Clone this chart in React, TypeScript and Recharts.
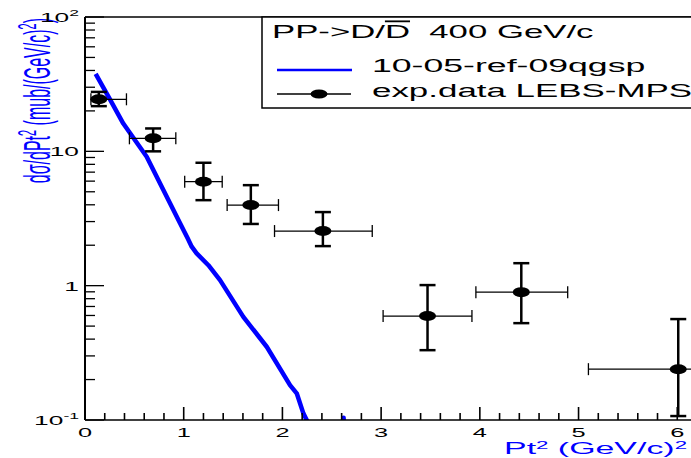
import React from 'react';
import { ComposedChart, Line, Scatter, XAxis, YAxis, ErrorBar, ReferenceLine } from 'recharts';

// ---- simulation curve (10-05-ref-09qgsp) ----
const curveX = [0.108, 0.253, 0.388, 0.625, 0.794, 0.963, 1.04, 1.081, 1.131, 1.25, 1.368, 1.604, 1.841, 2.077, 2.145, 2.212, 2.246, 2.29, 2.6, 2.615, 2.62, 2.625, 2.64];
const curveY = [37.7, 24.4, 16.1, 9.12, 5.15, 2.91, 2.25, 1.95, 1.74, 1.42, 1.10, 0.586, 0.351, 0.182, 0.158, 0.112, 0.1, 0.07, 0.07, 0.07, 0.104, 0.07, 0.07];

// ---- experimental data (exp.data LEBS-MPS) ----
const expX = [0.14, 0.69, 1.20, 1.68, 2.41, 3.47, 4.42, 6.01];
const expY = [24.4, 12.5, 5.94, 3.98, 2.55, 0.594, 0.895, 0.239];
const expXLo = [0.06, 0.45, 1.01, 1.44, 1.92, 3.02, 3.96, 5.10];
const expXHi = [0.42, 0.92, 1.39, 1.96, 2.91, 3.92, 4.89, 6.92];
const expYLo = [21.7, 10.0, 4.33, 2.88, 1.97, 0.331, 0.526, 0.107];
const expYHi = [27.7, 14.8, 8.22, 5.6, 3.53, 1.01, 1.47, 0.564];

// ---- axes ----
const xMajor = [0, 1, 2, 3, 4, 5, 6];
const xMajorLabels = ['0', '1', '2', '3', '4', '5', '6'];
const xMinorSteps = [0.2, 0.4, 0.6, 0.8];
const xDomain = [0, 6.2];
const yTicks = [
  0.1, 0.2, 0.3, 0.4, 0.5, 0.6, 0.7, 0.8, 0.9,
  1, 2, 3, 4, 5, 6, 7, 8, 9,
  10, 20, 30, 40, 50, 60, 70, 80, 90, 100,
];
const yDomain = [0.1, 100];

const legendTitle = 'PP->D/';
const legendTitleBar = 'D';
const legendTitleRest = '  400 GeV/c';
const seriesNames = ['10-05-ref-09qgsp', 'exp.data LEBS-MPS'];

const FONT = '"Liberation Sans", Arial, Helvetica, sans-serif';
const SX = 1.95;
const BLUE = '#0000ff';
const TICK = '#000000';

const curveData = curveX.map((x, i) => ({ x, y: curveY[i] }));
const expData = expX.map((x, i) => ({
  x,
  y: expY[i],
  ex: [x - expXLo[i], expXHi[i] - x],
  ey: [expY[i] - expYLo[i], expYHi[i] - expY[i]],
}));

const xTicks: number[] = [];
xMajor.forEach((m) => {
  xTicks.push(m);
  xMinorSteps.forEach((s) => xTicks.push(+(m + s).toFixed(2)));
});

function XTick(props: any) {
  const { x, y, payload } = props;
  const v = payload.value;
  const major = Math.abs(v - Math.round(v)) < 1e-6;
  const idx = xMajor.indexOf(Math.round(v));
  return (
    <g>
      <line x1={x} x2={x} y1={y} y2={y - (major ? 13 : 7)} stroke={TICK} strokeWidth={1.6} />
      {major && idx >= 0 && (
        <text
          transform={`translate(${x},${y + 17}) scale(${SX},1)`}
          textAnchor="middle"
          fontSize={13}
          fontFamily={FONT}
          fill="#000"
        >
          {xMajorLabels[idx]}
        </text>
      )}
    </g>
  );
}

function YTick(props: any) {
  const { x, y, payload } = props;
  const v = payload.value;
  const lg = Math.log10(v);
  const e = Math.round(lg);
  const major = Math.abs(lg - e) < 1e-6;
  let label = null;
  if (major) {
    const main = e === 0 ? '1' : '10';
    const sup = e === 0 || e === 1 ? null : e < 0 ? '-' + String(-e) : String(e);
    label = (
      <text
        transform={`translate(${x - 6},${y + 5}) scale(${SX},1)`}
        textAnchor="end"
        fontSize={13.5}
        fontFamily={FONT}
        fill="#000"
      >
        {main}
        {sup && (
          <tspan dy={-6} fontSize={9}>
            {sup}
          </tspan>
        )}
      </text>
    );
  }
  return (
    <g>
      <line x1={x} x2={x + (major ? 19 : 10)} y1={y} y2={y} stroke={TICK} strokeWidth={1.3} />
      {label}
    </g>
  );
}

function YTitle() {
  return (
    <text
      transform={`translate(50,18) scale(2.35,1) rotate(-90)`}
      textAnchor="end"
      fontSize={16}
      fontFamily={FONT}
      fill={BLUE}
    >
      {'d\u03c3/dPt'}
      <tspan dy={-6} fontSize={11}>2</tspan>
      <tspan dy={6}>{' (mub/(GeV/c)'}</tspan>
      <tspan dy={-6} fontSize={11}>2</tspan>
      <tspan dy={6}>)</tspan>
    </text>
  );
}

function XTitle() {
  return (
    <text
      transform={`translate(687,454) scale(2.12,1)`}
      textAnchor="end"
      fontSize={16}
      fontFamily={FONT}
      fill={BLUE}
    >
      Pt
      <tspan dy={-5} fontSize={10.5}>2</tspan>
      <tspan dy={5}>{' (GeV/c)'}</tspan>
      <tspan dy={-5} fontSize={10.5}>2</tspan>
    </text>
  );
}

function Marker(props: any) {
  const { cx, cy } = props;
  if (cx == null || cy == null) return null;
  return <ellipse cx={cx} cy={cy} rx={8.5} ry={5} fill="#000" />;
}

export default function App() {
  return (
    <div
      style={{
        position: 'absolute',
        left: 0,
        top: 0,
        width: 691,
        height: 458,
        overflow: 'hidden',
        background: '#fff',
      }}
    >
      <ComposedChart width={697} height={458} margin={{ top: 17, right: 0, bottom: 0, left: 0 }}>
        <XAxis
          type="number"
          dataKey="x"
          domain={xDomain}
          allowDataOverflow
          ticks={xTicks}
          interval={0}
          tickSize={0}
          tickMargin={0}
          tickLine={false}
          tick={<XTick />}
          height={38}
          axisLine={{ stroke: '#000', strokeWidth: 1.5 }}
          label={<XTitle />}
        />
        <YAxis
          type="number"
          dataKey="y"
          scale="log"
          domain={yDomain}
          allowDataOverflow
          ticks={yTicks}
          interval={0}
          tickSize={0}
          tickMargin={0}
          tickLine={false}
          tick={<YTick />}
          width={85}
          axisLine={{ stroke: '#000', strokeWidth: 2 }}
          label={<YTitle />}
        />
        <ReferenceLine y={100} stroke="#000" strokeWidth={1.5} />
        <Line
          data={curveData}
          dataKey="y"
          type="linear"
          stroke={BLUE}
          strokeWidth={4.5}
          strokeLinejoin="round"
          dot={false}
          activeDot={false}
          isAnimationActive={false}
        />
        <Scatter data={expData} dataKey="y" shape={<Marker />} isAnimationActive={false}>
          <ErrorBar dataKey="ex" direction="x" width={6} stroke="#000" strokeWidth={1.3} isAnimationActive={false} />
          <ErrorBar dataKey="ey" direction="y" width={8} stroke="#000" strokeWidth={2.5} isAnimationActive={false} />
        </Scatter>
      </ComposedChart>
      <svg
        width={691}
        height={458}
        style={{ position: 'absolute', left: 0, top: 0, pointerEvents: 'none' }}
      >
        <rect x={262} y={17} width={440} height={91} fill="#fff" stroke="#000" strokeWidth={1.5} />
        <text
          transform={`translate(272,38) scale(1.93,1)`}
          fontSize={18}
          fontFamily={FONT}
          fill="#000"
          style={{ whiteSpace: 'pre' }}
        >
          {legendTitle}
          <tspan style={{ textDecoration: 'overline' }}>{legendTitleBar}</tspan>
          {legendTitleRest}
        </text>
        <line x1={277} x2={352} y1={70} y2={70} stroke={BLUE} strokeWidth={2.5} />
        <text transform={`translate(372,72) scale(1.98,1)`} fontSize={18} fontFamily={FONT} fill="#000">
          {seriesNames[0]}
        </text>
        <line x1={277} x2={351} y1={94} y2={94} stroke="#000" strokeWidth={1.3} />
        <ellipse cx={319} cy={94} rx={8.5} ry={4.5} fill="#000" />
        <text transform={`translate(372,97) scale(1.94,1)`} fontSize={18} fontFamily={FONT} fill="#000">
          {seriesNames[1]}
        </text>
      </svg>
    </div>
  );
}
